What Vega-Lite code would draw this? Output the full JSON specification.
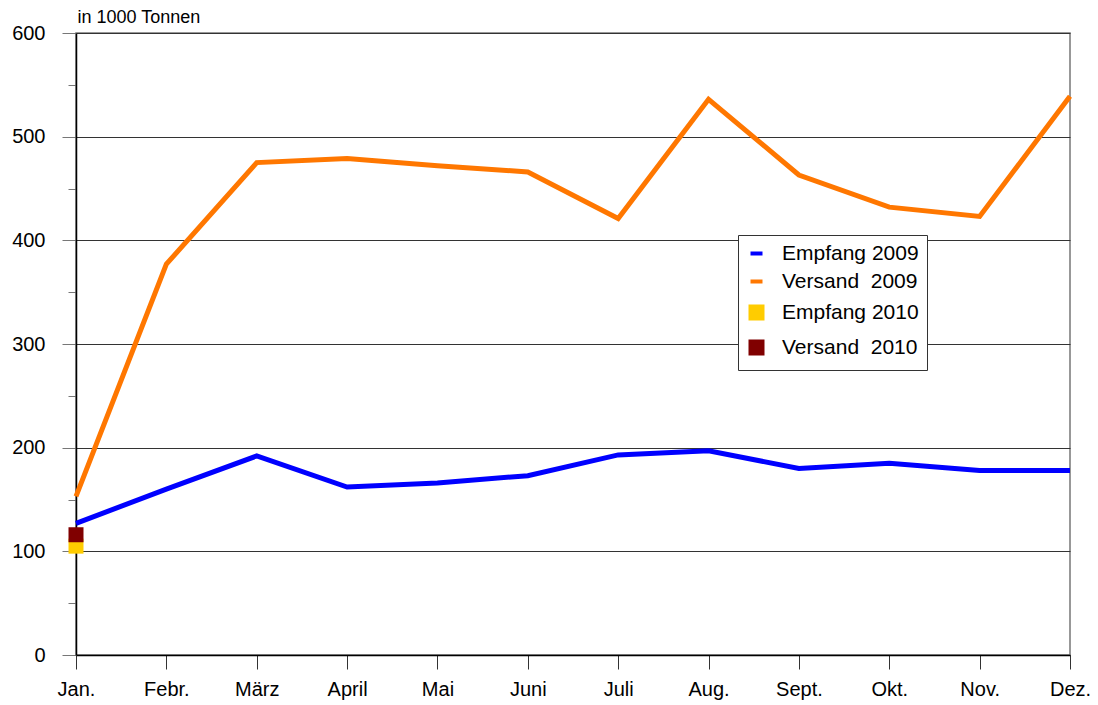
{
  "$schema": "https://vega.github.io/schema/vega-lite/v6.json",
  "width": 994,
  "height": 622,
  "autosize": {"type": "none"},
  "padding": {"left": 76, "top": 33, "right": 28, "bottom": 50},
  "background": "white",
  "config": {
    "font": "Liberation Sans",
    "view": {"stroke": "#777777", "strokeWidth": 1.5}
  },
  "data": {
    "values": [
      {"month": "Jan.", "series": "Empfang 2009", "value": 127},
      {"month": "Febr.", "series": "Empfang 2009", "value": 160},
      {"month": "März", "series": "Empfang 2009", "value": 192},
      {"month": "April", "series": "Empfang 2009", "value": 162},
      {"month": "Mai", "series": "Empfang 2009", "value": 166},
      {"month": "Juni", "series": "Empfang 2009", "value": 173},
      {"month": "Juli", "series": "Empfang 2009", "value": 193},
      {"month": "Aug.", "series": "Empfang 2009", "value": 197},
      {"month": "Sept.", "series": "Empfang 2009", "value": 180},
      {"month": "Okt.", "series": "Empfang 2009", "value": 185},
      {"month": "Nov.", "series": "Empfang 2009", "value": 178},
      {"month": "Dez.", "series": "Empfang 2009", "value": 178},
      {"month": "Jan.", "series": "Versand\u00a0 2009", "value": 153},
      {"month": "Febr.", "series": "Versand\u00a0 2009", "value": 377},
      {"month": "März", "series": "Versand\u00a0 2009", "value": 475},
      {"month": "April", "series": "Versand\u00a0 2009", "value": 479},
      {"month": "Mai", "series": "Versand\u00a0 2009", "value": 472},
      {"month": "Juni", "series": "Versand\u00a0 2009", "value": 466},
      {"month": "Juli", "series": "Versand\u00a0 2009", "value": 421},
      {"month": "Aug.", "series": "Versand\u00a0 2009", "value": 536},
      {"month": "Sept.", "series": "Versand\u00a0 2009", "value": 463},
      {"month": "Okt.", "series": "Versand\u00a0 2009", "value": 432},
      {"month": "Nov.", "series": "Versand\u00a0 2009", "value": 423},
      {"month": "Dez.", "series": "Versand\u00a0 2009", "value": 539},
      {"month": "Jan.", "series": "Empfang 2010", "value": 105},
      {"month": "Jan.", "series": "Versand\u00a0 2010", "value": 116}
    ]
  },
  "encoding": {
    "x": {
      "field": "month",
      "type": "ordinal",
      "scale": {"type": "point", "padding": 0, "domain": ["Jan.", "Febr.", "März", "April", "Mai", "Juni", "Juli", "Aug.", "Sept.", "Okt.", "Nov.", "Dez."]},
      "axis": {
        "orient": "bottom",
        "title": null,
        "labelAngle": 0,
        "labelFontSize": 20,
        "labelColor": "black",
        "labelPadding": 10,
        "tickSize": 14,
        "tickColor": "#333333",
        "domainColor": "black",
        "domainWidth": 1.5,
        "grid": false
      }
    },
    "y": {
      "field": "value",
      "type": "quantitative",
      "scale": {"domain": [0, 600], "nice": false},
      "axis": {
        "values": [0, 50, 100, 150, 200, 250, 300, 350, 400, 450, 500, 550, 600],
        "labelExpr": "datum.value % 100 === 0 ? datum.label : ''",
        "labelFontSize": 20,
        "labelColor": "black",
        "labelPadding": 17,
        "tickSize": {"condition": {"test": "datum.value % 100 === 0", "value": 14}, "value": 8},
        "tickColor": "#777777",
        "domainColor": "black",
        "domainWidth": 1.5,
        "grid": true,
        "gridColor": "#333333",
        "gridWidth": 1,
        "gridOpacity": {"condition": {"test": "datum.value % 100 === 0", "value": 1}, "value": 0},
        "title": "in 1000 Tonnen",
        "titleAngle": 0,
        "titleAlign": "left",
        "titleBaseline": "alphabetic",
        "titleFontSize": 18,
        "titleFontWeight": "normal",
        "titleColor": "black",
        "titleX": 1,
        "titleY": -11
      }
    },
    "color": {
      "field": "series",
      "type": "nominal",
      "scale": {
        "domain": ["Empfang 2009", "Versand\u00a0 2009", "Empfang 2010", "Versand\u00a0 2010"],
        "range": ["#0000ff", "#ff7700", "#ffcc00", "#800000"]
      },
      "legend": {
        "title": null,
        "orient": "none",
        "legendX": 662,
        "legendY": 202,
        "fillColor": "white",
        "strokeColor": "#333333",
        "padding": 8,
        "labelFontSize": 21,
        "labelColor": "black",
        "labelOffset": 15,
        "rowPadding": 6,
        "symbolSize": 144,
        "symbolStrokeWidth": 4
      }
    }
  },
  "layer": [
    {
      "transform": [{"filter": "indexof(datum.series, '2009') >= 0"}],
      "mark": {"type": "line", "strokeWidth": 5}
    },
    {
      "transform": [{"filter": "indexof(datum.series, '2010') >= 0"}],
      "mark": {"type": "point", "filled": true, "size": 225, "opacity": 1},
      "encoding": {
        "shape": {
          "field": "series",
          "type": "nominal",
          "scale": {
            "domain": ["Empfang 2009", "Versand\u00a0 2009", "Empfang 2010", "Versand\u00a0 2010"],
            "range": ["stroke", "stroke", "square", "square"]
          },
          "legend": {
            "title": null,
            "orient": "none",
            "legendX": 662,
            "legendY": 202,
            "fillColor": "white",
            "strokeColor": "#333333",
            "padding": 8,
            "labelFontSize": 21,
            "labelColor": "black",
            "labelOffset": 15,
            "rowPadding": 6,
            "symbolSize": 144,
            "symbolStrokeWidth": 4
          }
        }
      }
    }
  ]
}
